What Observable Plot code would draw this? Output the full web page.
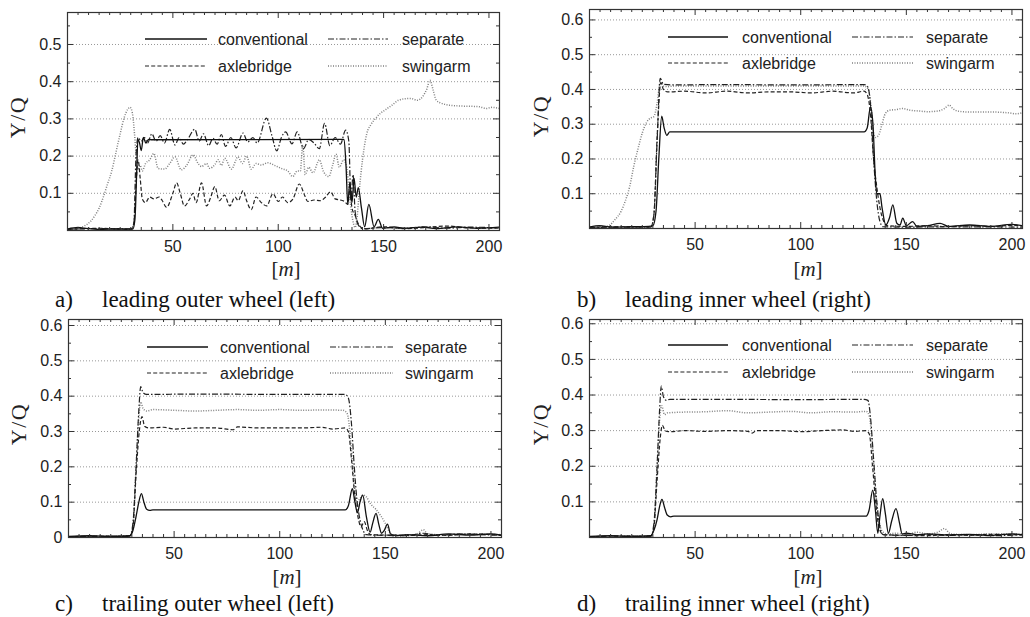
<!DOCTYPE html>
<html><head><meta charset="utf-8">
<script src="https://cdn.jsdelivr.net/npm/d3@7"></script>
<script src="https://cdn.jsdelivr.net/npm/@observablehq/plot@0.6"></script>
<style>
html,body{margin:0;padding:0;background:#fff}
#page{position:relative;width:1030px;height:617px;overflow:hidden;background:#fff}
.panel{position:absolute}
#overlay{position:absolute;left:0;top:0;pointer-events:none}
</style>
</head><body>
<div id="page"></div>
<script>
// ---------------- data ----------------
const X_DOMAIN = [0, 205];
const xTickLabels = [50, 100, 150, 200];
const yTickLabelsA = [0.1, 0.2, 0.3, 0.4, 0.5];
const yTickLabelsB = [0.1, 0.2, 0.3, 0.4, 0.5, 0.6];
const yTickLabelsC = [0, 0.1, 0.2, 0.3, 0.4, 0.5, 0.6];
const yTickLabelsD = [0.1, 0.2, 0.3, 0.4, 0.5, 0.6];
const seriesNames = ["conventional", "separate", "axlebridge", "swingarm"];
const panelLetters = ["a)", "b)", "c)", "d)"];
const panelCaptions = ["leading outer wheel (left)", "leading inner wheel (right)", "trailing outer wheel (left)", "trailing inner wheel (right)"];
const xLabelText = "m";
const yLabelText = "Y/Q";

// a) leading outer wheel (left)
const aConventional = [[0,0.004],[5,0.008],[8,0.006],[15,0.003],[25,0.004],[31,0.004],[32,0.03],[32.8,0.15],[33.4,0.245],[34.2,0.235],[35,0.215],[36,0.25],[37.2,0.235],[38.5,0.245],[40,0.244],[130,0.245],[131.2,0.244],[132.2,0.17],[133,0.07],[134,0.13],[135,0.075],[136,0.14],[137,0.09],[138,0.115],[139.5,0.06],[141,0.01],[143,0.07],[145.5,0.01],[147.5,0.03],[149.5,0.006],[155,0.01],[160,0.006],[168,0.009],[175,0.005],[185,0.01],[195,0.006],[205,0.009]];
const aSeparate = [[0,0.003],[15,0.005],[30,0.004],[31.5,0.02],[32.5,0.2],[33.5,0.25],[35,0.24],[36.5,0.25],[38,0.235],[40,0.26],[42,0.24],[44,0.255],[46,0.235],[48.5,0.272],[51,0.23],[53,0.25],[55,0.232],[57,0.245],[60.4,0.272],[62.5,0.24],[64.5,0.26],[67,0.228],[69,0.248],[71,0.232],[73,0.258],[75,0.226],[77.5,0.25],[80,0.222],[83.3,0.262],[85.5,0.238],[88,0.25],[90,0.235],[94.4,0.302],[97,0.255],[99.3,0.214],[101.5,0.25],[103.5,0.265],[106.5,0.233],[109,0.265],[112,0.22],[114.5,0.245],[117,0.235],[119.5,0.22],[122,0.288],[124.5,0.228],[127,0.25],[129.5,0.232],[132,0.27],[133.5,0.24],[134.5,0.08],[135.5,0.15],[136.5,0.05],[138,0.015],[140,0.005],[150,0.008],[160,0.006],[170,0.01],[180,0.006],[190,0.009],[205,0.007]];
const aAxlebridge = [[0,0.003],[15,0.006],[30,0.003],[31.5,0.02],[32.5,0.12],[33.5,0.19],[34.5,0.14],[35.5,0.085],[37,0.075],[39,0.09],[41,0.085],[43.5,0.09],[45,0.08],[47,0.062],[50,0.1],[51.8,0.128],[53.5,0.1],[55.5,0.066],[58,0.085],[59.5,0.1],[61,0.075],[63.6,0.128],[66,0.066],[68,0.09],[69.9,0.118],[72,0.08],[74.5,0.095],[77,0.066],[79.5,0.09],[81,0.08],[83.3,0.107],[85,0.08],[87.2,0.056],[89.5,0.09],[92,0.075],[94.5,0.066],[97.5,0.099],[100,0.078],[102,0.09],[104.5,0.075],[107,0.085],[110,0.125],[112.5,0.095],[114,0.078],[117,0.082],[120,0.08],[122.5,0.09],[124.9,0.104],[127,0.085],[129.5,0.082],[131.5,0.078],[133,0.07],[134,0.11],[135,0.06],[136.5,0.04],[138.3,0.015],[141,0.004],[150,0.01],[160,0.005],[170,0.008],[180,0.012],[190,0.007],[205,0.006]];
const aSwingarm = [[0,0.003],[5,0.006],[8,0.012],[11,0.025],[13,0.04],[15,0.06],[17,0.09],[19,0.125],[21,0.16],[23,0.21],[25,0.26],[27,0.305],[28.5,0.325],[29.7,0.331],[30.8,0.315],[31.8,0.26],[32.6,0.2],[33.5,0.165],[34.5,0.175],[35.5,0.16],[37,0.18],[39,0.19],[41,0.207],[43,0.167],[46,0.165],[48.5,0.18],[51,0.198],[54,0.163],[56.5,0.175],[59.6,0.203],[62,0.18],[63.6,0.172],[66,0.18],[67.5,0.167],[70,0.178],[71.5,0.19],[73,0.175],[74.6,0.194],[77.8,0.165],[80.9,0.198],[83,0.18],[85,0.2],[87.2,0.165],[89.5,0.18],[91.9,0.176],[95,0.182],[98.3,0.175],[101.4,0.167],[104.5,0.16],[106.9,0.145],[109,0.16],[110.5,0.16],[111.6,0.23],[112.8,0.15],[114.5,0.17],[116.5,0.155],[119.5,0.19],[121.5,0.158],[124,0.145],[125.8,0.175],[127.4,0.205],[129,0.17],[131,0.19],[132.5,0.17],[133.7,0.1],[135,0.04],[136.5,0.008],[137.5,0.04],[138.5,0.11],[140,0.19],[142,0.26],[144,0.285],[146,0.3],[148.5,0.315],[151,0.325],[154,0.337],[157,0.35],[160,0.354],[163,0.355],[166,0.35],[168.5,0.36],[170.5,0.38],[172,0.404],[173.5,0.378],[175,0.35],[177,0.343],[180,0.338],[185,0.335],[190,0.334],[195,0.333],[199,0.328],[201,0.331],[205,0.328]];

// b) leading inner wheel (right)
const bConventional = [[0,0.004],[5,0.008],[10,0.004],[20,0.005],[28,0.006],[30,0.008],[31.5,0.05],[32.8,0.2],[34.2,0.323],[35.3,0.29],[36.6,0.268],[38,0.278],[40,0.278],[130,0.278],[131.5,0.29],[133,0.35],[134.2,0.3],[135.3,0.15],[136,0.1],[137.5,0.1],[138.5,0.06],[140.3,0.01],[142,0.03],[143.6,0.068],[145.5,0.015],[147,0.01],[148.3,0.03],[150,0.008],[153,0.02],[155,0.006],[160,0.008],[166,0.015],[170,0.006],[180,0.01],[190,0.006],[200,0.012],[205,0.008]];
const bSeparate = [[0,0.003],[15,0.004],[29,0.004],[30.5,0.04],[32,0.25],[33.5,0.432],[35,0.415],[40,0.413],[60,0.414],[100,0.413],[130,0.414],[131.5,0.41],[133,0.36],[134.5,0.2],[136,0.08],[137.5,0.02],[139,0.005],[150,0.004],[170,0.005],[205,0.004]];
const bAxlebridge = [[0,0.003],[15,0.005],[29,0.004],[30.5,0.04],[32,0.26],[33.8,0.42],[35,0.4],[37,0.393],[45,0.395],[55,0.39],[65,0.395],[75,0.39],[85,0.393],[95,0.393],[105,0.39],[115,0.395],[125,0.39],[130,0.395],[131.5,0.385],[133,0.33],[134.5,0.2],[136,0.12],[137.5,0.06],[139,0.025],[141,0.008],[150,0.006],[160,0.008],[170,0.005],[180,0.008],[190,0.006],[200,0.009],[205,0.007]];
const bSwingarm = [[0,0.003],[5,0.004],[9,0.008],[12,0.025],[15,0.05],[17,0.08],[19,0.12],[21,0.18],[23,0.23],[25,0.275],[27,0.305],[29,0.318],[30.5,0.322],[32,0.36],[33.5,0.42],[35,0.41],[37,0.408],[40,0.41],[130,0.41],[132,0.4],[133.5,0.34],[134.5,0.275],[135.5,0.262],[137,0.27],[138.5,0.3],[140,0.33],[142,0.34],[145,0.342],[148,0.345],[152,0.34],[156,0.338],[160,0.336],[165,0.338],[168,0.345],[170.3,0.355],[172,0.345],[175,0.337],[180,0.335],[190,0.335],[198,0.333],[202,0.33],[205,0.333]];

// c) trailing outer wheel (left)
const cConventional = [[0,0.003],[10,0.005],[20,0.003],[29,0.005],[30.5,0.02],[32,0.06],[33.3,0.1],[34.5,0.124],[35.7,0.1],[37,0.08],[38.5,0.077],[40,0.078],[131,0.078],[132.5,0.09],[134.4,0.138],[135.6,0.1],[136.8,0.07],[138,0.1],[139.3,0.12],[141,0.06],[142.8,0.015],[144,0.04],[145.6,0.068],[147,0.035],[148.2,0.012],[149.5,0.02],[151,0.038],[152.5,0.01],[155,0.006],[160,0.008],[170,0.005],[180,0.01],[190,0.007],[200,0.01],[205,0.006]];
const cSeparate = [[0,0.002],[15,0.003],[29,0.004],[30.5,0.04],[32,0.2],[33.2,0.35],[34.2,0.427],[35.3,0.41],[37,0.405],[60,0.406],[100,0.405],[131,0.405],[132.5,0.395],[134,0.32],[135.3,0.2],[136.5,0.11],[138,0.05],[139.5,0.02],[141,0.008],[150,0.006],[160,0.005],[168,0.012],[175,0.006],[185,0.01],[195,0.008],[205,0.006]];
const cAxlebridge = [[0,0.002],[15,0.004],[29,0.003],[30.5,0.03],[32,0.18],[33.5,0.3],[34.8,0.342],[36,0.315],[38,0.31],[45,0.312],[50,0.307],[60,0.31],[70,0.31],[78,0.305],[80,0.313],[90,0.31],[100,0.31],[110,0.31],[120,0.312],[125,0.307],[131,0.31],[132.5,0.3],[134,0.22],[135.5,0.12],[137,0.06],[138.5,0.03],[140,0.045],[141.5,0.02],[143,0.008],[150,0.007],[160,0.006],[170,0.008],[180,0.006],[190,0.01],[205,0.007]];
const cSwingarm = [[0,0.002],[15,0.003],[29,0.004],[30.5,0.03],[32,0.2],[33.2,0.33],[34.2,0.384],[35.3,0.365],[37,0.358],[40,0.362],[50,0.36],[60,0.358],[70,0.36],[80,0.362],[90,0.36],[100,0.362],[110,0.36],[120,0.361],[130,0.36],[132,0.35],[133.5,0.28],[135,0.17],[136.5,0.1],[138,0.11],[139.5,0.12],[141,0.115],[143,0.095],[145.5,0.08],[148,0.06],[150,0.04],[152,0.015],[154,0.004],[160,0.006],[165,0.01],[168,0.022],[170,0.01],[180,0.007],[190,0.01],[205,0.008]];

// d) trailing inner wheel (right)
const dConventional = [[0,0.003],[10,0.005],[20,0.003],[29,0.005],[30.5,0.02],[32,0.05],[33.3,0.09],[34.3,0.107],[35.5,0.085],[36.8,0.063],[38.5,0.058],[40,0.06],[131,0.06],[132.3,0.075],[134.1,0.133],[135.3,0.08],[136.5,0.012],[137.5,0.06],[138.8,0.109],[140,0.07],[141.5,0.012],[143,0.045],[145.1,0.081],[146.8,0.04],[148,0.01],[150,0.012],[155,0.008],[160,0.01],[170,0.007],[180,0.009],[190,0.006],[200,0.01],[205,0.008]];
const dSeparate = [[0,0.002],[15,0.004],[29,0.003],[30.5,0.04],[32,0.2],[33.2,0.36],[34,0.425],[35,0.395],[36.5,0.385],[38,0.388],[60,0.388],[100,0.387],[130,0.388],[131.8,0.385],[133,0.34],[134.5,0.22],[136,0.1],[137.5,0.03],[139,0.008],[150,0.006],[160,0.008],[170,0.006],[180,0.008],[190,0.005],[205,0.008]];
const dAxlebridge = [[0,0.002],[15,0.004],[29,0.003],[30.5,0.03],[32,0.16],[33.5,0.28],[34.5,0.315],[35.8,0.3],[37.5,0.297],[45,0.3],[55,0.298],[65,0.3],[75,0.298],[77,0.293],[79,0.3],[90,0.3],[100,0.297],[110,0.3],[120,0.302],[125,0.298],[131,0.3],[132.5,0.29],[134,0.2],[135.5,0.1],[137,0.03],[139,0.008],[150,0.006],[160,0.005],[170,0.008],[180,0.006],[190,0.009],[205,0.007]];
const dSwingarm = [[0,0.002],[15,0.003],[29,0.004],[30.5,0.03],[32,0.2],[33.2,0.33],[34.2,0.37],[35.5,0.345],[37,0.35],[45,0.352],[55,0.353],[65,0.356],[75,0.35],[85,0.352],[95,0.354],[105,0.35],[115,0.353],[125,0.352],[131,0.354],[132.5,0.34],[134,0.25],[135.5,0.13],[137,0.05],[139,0.015],[141,0.01],[145,0.012],[150,0.008],[155,0.015],[160,0.01],[165,0.015],[168,0.025],[171,0.01],[180,0.008],[190,0.01],[205,0.009]];

// ---------------- styles & layout ----------------
const SANS = "'Liberation Sans', Arial, Helvetica, sans-serif";
const SERIF = "'Liberation Serif', 'Times New Roman', serif";
const lineStyle = {
  conventional: {stroke: "#111", dash: null, width: 1.3},
  separate:     {stroke: "#222", dash: "6,2,1.5,2", width: 1.2},
  axlebridge:   {stroke: "#222", dash: "4,2.2", width: 1.2},
  swingarm:     {stroke: "#808080", dash: "1,1.5", width: 1.5}
};
const drawOrder = ["swingarm", "axlebridge", "separate", "conventional"];

const panels = [
  {left: 0,   top: 0,   width: 515, height: 262, ml: 67, mr: 16, mt: 12, mb: 32, ymax: 0.586, yLabels: yTickLabelsA,
   series: {conventional: aConventional, separate: aSeparate, axlebridge: aAxlebridge, swingarm: aSwingarm},
   legend: {x1: [145, 328], x2: [207, 388], tx: [218, 402], y: [39, 66]},
   ylab: [17, 117], xlab: [286, 269], cap: [55, 102, 307]},
  {left: 515, top: 0,   width: 515, height: 260, ml: 74, mr: 8,  mt: 9,  mb: 32, ymax: 0.63, yLabels: yTickLabelsB,
   series: {conventional: bConventional, separate: bSeparate, axlebridge: bAxlebridge, swingarm: bSwingarm},
   legend: {x1: [668, 852], x2: [728, 913], tx: [742, 926], y: [37, 63]},
   ylab: [540, 116], xlab: [808, 269], cap: [577, 625, 307]},
  {left: 0,   top: 300, width: 515, height: 270, ml: 68, mr: 14, mt: 19, mb: 33, ymax: 0.617, yLabels: yTickLabelsC,
   series: {conventional: cConventional, separate: cSeparate, axlebridge: cAxlebridge, swingarm: cSwingarm},
   legend: {x1: [147, 330], x2: [208, 393], tx: [220, 405], y: [347, 373]},
   ylab: [18, 424], xlab: [287, 577], cap: [55, 102, 611]},
  {left: 515, top: 300, width: 515, height: 270, ml: 74, mr: 8,  mt: 19, mb: 33, ymax: 0.612, yLabels: yTickLabelsD,
   series: {conventional: dConventional, separate: dSeparate, axlebridge: dAxlebridge, swingarm: dSwingarm},
   legend: {x1: [668, 852], x2: [728, 913], tx: [742, 926], y: [345, 372]},
   ylab: [540, 424], xlab: [808, 577], cap: [577, 625, 611]}
];

const page = document.getElementById("page");
const fmtY = d => d === 0 ? "0" : d3.format(".1f")(d);

panels.forEach(p => {
  const pw = p.width - p.ml - p.mr;
  const ph = p.height - p.mt - p.mb;
  const xMajor = xTickLabels;
  const xMinor = d3.range(5, X_DOMAIN[1], 5).filter(v => v % 50 !== 0);
  const yMajor = yTickLabelsB.filter(v => v <= p.ymax);
  const yMinor = d3.range(0.05, p.ymax, 0.1);
  const gridVals = yMajor;
  const tickStyle = {stroke: "#333", strokeWidth: 1};

  const lineMarks = drawOrder.map(name => {
    const s = lineStyle[name];
    const rows = p.series[name].map(([x, y]) => ({x, y, series: name}));
    return Plot.line(rows, {x: "x", y: "y", stroke: s.stroke, strokeWidth: s.width,
      strokeDasharray: s.dash || undefined, strokeLinecap: "butt", strokeLinejoin: "round",
      curve: "monotone-x", clip: true});
  });

  const chart = Plot.plot({
    width: p.width, height: p.height,
    marginLeft: p.ml, marginRight: p.mr, marginTop: p.mt, marginBottom: p.mb,
    x: {domain: X_DOMAIN, nice: false},
    y: {domain: [0, p.ymax], nice: false},
    style: {fontFamily: SANS, fontSize: "16px", color: "#222", background: "transparent", overflow: "visible"},
    marks: [
      Plot.gridY(gridVals, {stroke: "#8c8c8c", strokeOpacity: 1, strokeWidth: 0.9, strokeDasharray: "1,2"}),
      ...lineMarks,
      Plot.tickX(xMinor, {x: d => d, ...tickStyle, insetTop: ph - 3}),
      Plot.tickX(xMinor, {x: d => d, ...tickStyle, insetBottom: ph - 3}),
      Plot.tickX(xMajor, {x: d => d, ...tickStyle, insetTop: ph - 6}),
      Plot.tickX(xMajor, {x: d => d, ...tickStyle, insetBottom: ph - 6}),
      Plot.tickY(yMinor, {y: d => d, ...tickStyle, insetRight: pw - 3}),
      Plot.tickY(yMinor, {y: d => d, ...tickStyle, insetLeft: pw - 3}),
      Plot.tickY(yMajor, {y: d => d, ...tickStyle, insetRight: pw - 6}),
      Plot.tickY(yMajor, {y: d => d, ...tickStyle, insetLeft: pw - 6}),
      Plot.frame({stroke: "#333", strokeWidth: 1.2}),
      Plot.axisX(xTickLabels, {tickSize: 0, tickPadding: 10, label: null, tickFormat: d => String(d)}),
      Plot.axisY(p.yLabels, {tickSize: 0, tickPadding: 6, label: null, tickFormat: fmtY})
    ]
  });
  const wrap = document.createElement("div");
  wrap.className = "panel";
  wrap.style.left = p.left + "px";
  wrap.style.top = p.top + "px";
  wrap.appendChild(chart);
  page.appendChild(wrap);
});

// ---------------- overlay: legends, axis labels, captions ----------------
const ov = d3.select(page).append("svg").attr("id", "overlay")
  .attr("width", 1030).attr("height", 617);

panels.forEach(p => {
  const L = p.legend;
  const items = [["conventional", 0, 0], ["separate", 1, 0], ["axlebridge", 0, 1], ["swingarm", 1, 1]];
  items.forEach(([name, col, row]) => {
    const s = lineStyle[name];
    ov.append("line").attr("x1", L.x1[col]).attr("x2", L.x2[col])
      .attr("y1", L.y[row]).attr("y2", L.y[row])
      .attr("stroke", s.stroke).attr("stroke-width", s.width)
      .attr("stroke-dasharray", s.dash);
    ov.append("text").attr("x", L.tx[col]).attr("y", L.y[row]).attr("dy", "0.35em")
      .attr("font-family", SANS).attr("font-size", 16).attr("fill", "#222").text(name);
  });
  // y label
  ov.append("text").attr("transform", `translate(${p.ylab[0]},${p.ylab[1]}) rotate(-90)`)
    .attr("text-anchor", "middle").attr("dy", "0.35em")
    .attr("font-family", SERIF).attr("font-size", 22).attr("letter-spacing", "1.5px").attr("fill", "#222")
    .text(yLabelText);
  // x label
  const xl = ov.append("text").attr("x", p.xlab[0]).attr("y", p.xlab[1]).attr("dy", "0.35em")
    .attr("text-anchor", "middle").attr("font-family", SERIF).attr("font-size", 21).attr("fill", "#222");
  xl.append("tspan").text("[");
  xl.append("tspan").attr("font-style", "italic").text(xLabelText);
  xl.append("tspan").text("]");
});
panels.forEach((p, i) => {
  ov.append("text").attr("x", p.cap[0]).attr("y", p.cap[2])
    .attr("font-family", SERIF).attr("font-size", 23).attr("fill", "#111").text(panelLetters[i]);
  ov.append("text").attr("x", p.cap[1]).attr("y", p.cap[2])
    .attr("font-family", SERIF).attr("font-size", 23).attr("fill", "#111").text(panelCaptions[i]);
});
</script>
</body></html>
